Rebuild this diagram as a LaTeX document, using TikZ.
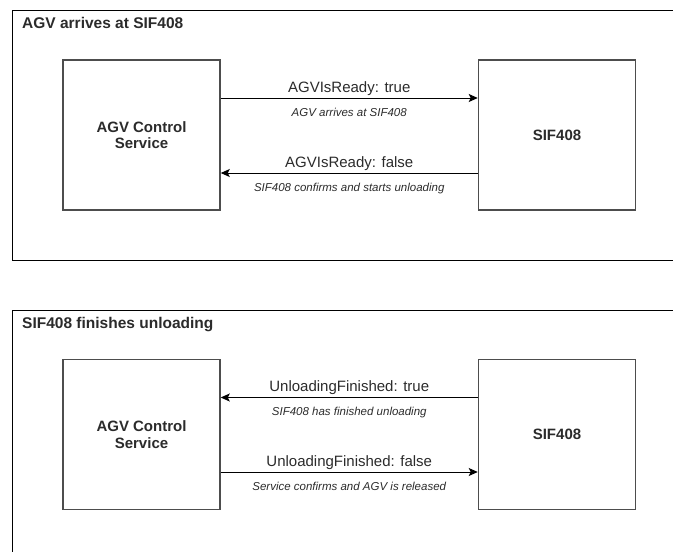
\documentclass[tikz,border=0pt]{standalone}
\usepackage{fontspec}
\setmainfont{Liberation Sans}
\usetikzlibrary{arrows.meta}
\definecolor{boxgray}{HTML}{4D4D4D}
\definecolor{textgray}{HTML}{2B2B2B}
\tikzset{
  panel/.style = {draw=black, line width=1pt},
  panel title/.style = {anchor=base west, inner sep=0pt,
    font=\bfseries\fontsize{15.5}{18}\selectfont, text=textgray},
  service/.style = {draw=boxgray, line width=1.5pt, minimum width=157pt,
    minimum height=150pt, align=center, text=textgray,
    font=\bfseries\fontsize{15}{16.5}\selectfont},
  msg/.style = {-{Stealth[length=9pt,width=8pt,inset=2pt]}, line width=1pt},
  msg name/.style = {anchor=base, inner sep=0pt, yshift=6pt,
    font=\fontsize{15}{18}\selectfont, text=textgray},
  msg note/.style = {anchor=base, inner sep=0pt, yshift=-18pt,
    font=\itshape\fontsize{11.5}{14}\selectfont, text=textgray}
}

\begin{document}
\begin{tikzpicture}[x=1pt,y=-1pt]
  \useasboundingbox (0,0) rectangle (673,552);
  \clip (0,0) rectangle (673,552);
  % AGV arrives
  \draw[panel] (12,10) rectangle (690,260);
  \node[panel title] (arrives) at (22,28) {AGV arrives at SIF408};
  \node[service] (acs1) at (141.5,135) {AGV Control\\Service};
  \node[service] (sif1) at (557,135) {SIF408};
  \draw[msg] ([yshift=37pt]acs1.east) -- node[msg name] {AGVIsReady: true}
    node[msg note] {AGV arrives at SIF408} ([yshift=37pt]sif1.west);
  \draw[msg] ([yshift=-38pt]sif1.west) -- node[msg name] {AGVIsReady: false}
    node[msg note] {SIF408 confirms and starts unloading} ([yshift=-38pt]acs1.east);
  %
  % unloading finished
  \draw[panel] (12,310) rectangle (690,570);
  \node[panel title] (finishes) at (22,328) {SIF408 finishes unloading};
  \node[service] (acs2) at (141.5,434.5) {AGV Control\\Service};
  \node[service] (sif2) at (557,434.5) {SIF408};
  \draw[msg] ([yshift=37pt]sif2.west) -- node[msg name] {UnloadingFinished: true}
    node[msg note] {SIF408 has finished unloading} ([yshift=37pt]acs2.east);
  \draw[msg] ([yshift=-37.5pt]acs2.east) -- node[msg name] {UnloadingFinished: false}
    node[msg note] {Service confirms and AGV is released} ([yshift=-37.5pt]sif2.west);
\end{tikzpicture}
\end{document}
